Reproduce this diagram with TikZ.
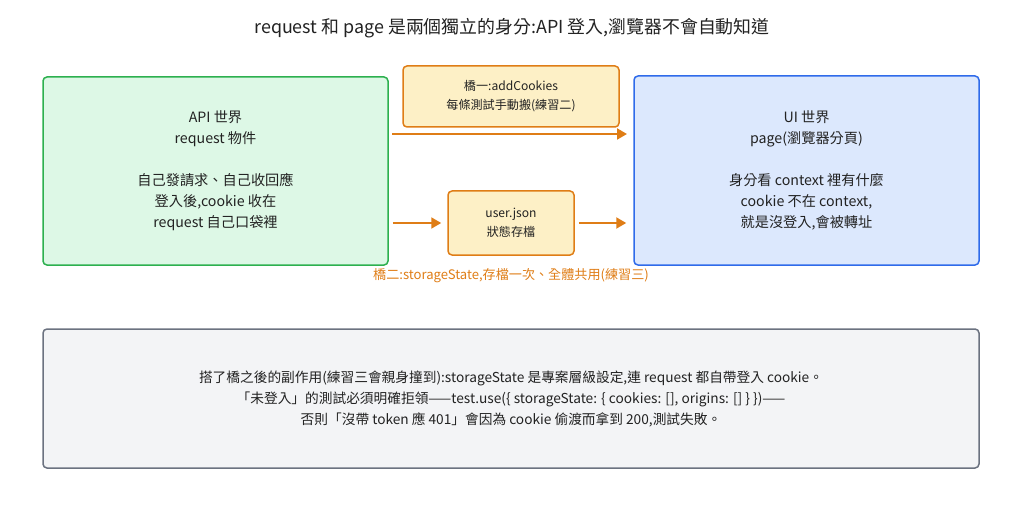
\documentclass[tikz,border=0pt]{standalone}
\usepackage{fontspec}
\setmainfont{Noto Sans CJK TC}
\usetikzlibrary{arrows.meta}
\definecolor{gfill}{HTML}{DDF8E6}\definecolor{gline}{HTML}{2DB04F}
\definecolor{bfill}{HTML}{DCE8FD}\definecolor{bline}{HTML}{2F6BEA}
\definecolor{ofill}{HTML}{FDF0C6}\definecolor{oline}{HTML}{DF7D16}
\definecolor{kfill}{HTML}{F3F4F6}\definecolor{kline}{HTML}{6B7280}
\definecolor{txt}{HTML}{222222}
\begin{document}
\begin{tikzpicture}[x=1pt,y=-1pt,
 box/.style={draw,line width=1.5pt,rounded corners=4pt,align=center,text=txt,font=\fontsize{14.2}{21}\selectfont},
 arr/.style={draw=oline,line width=2pt,-{Triangle[length=10pt,width=11pt]}}]
\useasboundingbox (0,0) rectangle (1024,529);
\node[font=\fontsize{17.9}{20}\selectfont,text=txt] (title) at (512,28) {request 和 page 是兩個獨立的身分:API 登入,瀏覽器不會自動知道};
\node[box,draw=gline,fill=gfill,minimum width=345pt,minimum height=188pt] (api) at (215.5,171) {API 世界\\request 物件\\[21pt]自己發請求、自己收回應\\登入後,cookie 收在\\request 自己口袋裡};
\node[box,draw=bline,fill=bfill,minimum width=345pt,minimum height=189pt] (ui) at (806.5,170.5) {UI 世界\\page(瀏覽器分頁)\\[21pt]身分看 context 裡有什麼\\cookie 不在 context,\\就是沒登入,會被轉址};
\node[box,draw=oline,fill=ofill,minimum width=216pt,minimum height=61pt,font=\fontsize{12.1}{19}\selectfont] (b1) at (511,96.5) {橋一:addCookies\\每條測試手動搬(練習二)};
\node[box,draw=oline,fill=ofill,minimum width=126pt,minimum height=64pt,font=\fontsize{12.1}{19}\selectfont] (b2) at (511,223) {user.json\\狀態存檔};
\node[font=\fontsize{13.1}{14}\selectfont,text=oline] (lab) at (511,276) {橋二:storageState,存檔一次、全體共用(練習三)};
\node[box,draw=kline,fill=kfill,minimum width=936pt,minimum height=139pt,font=\fontsize{13.7}{21}\selectfont] (note) at (511,398.5) {搭了橋之後的副作用(練習三會親身撞到):storageState 是專案層級設定,連 request 都自帶登入 cookie。\\「未登入」的測試必須明確拒領——test.use(\{ storageState: \{ cookies: [], origins: [] \} \})——\\否則「沒帶 token 應 401」會因為 cookie 偷渡而拿到 200,測試失敗。};
\coordinate (a1) at (392,134); \coordinate (a2) at (627,134);
\draw[arr] (a1) -- (a2);
\draw[arr] (api.east|-b2) ++(4,0) -- ([xshift=-6pt]b2.west);
\draw[arr] ([xshift=4pt]b2.east) -- ([xshift=-7pt]ui.west|-b2);
\end{tikzpicture}
\end{document}
